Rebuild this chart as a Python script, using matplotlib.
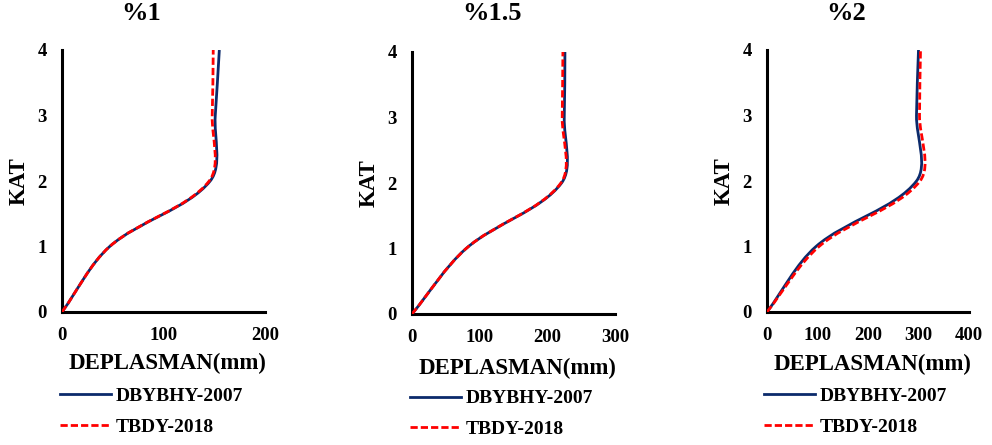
import numpy as np
import matplotlib
matplotlib.use("Agg")
import matplotlib.pyplot as plt
from matplotlib.path import Path
from matplotlib.patches import PathPatch
from matplotlib.lines import Line2D

plt.rcParams['font.family'] = ['Liberation Serif', 'DejaVu Serif']
plt.rcParams['font.weight'] = 'bold'

floors = [0, 1, 2, 3, 4]
titles = ["%1", "%1.5", "%2"]
xmax = [200, 300, 400]
xticks = [[0, 100, 200], [0, 100, 200, 300], [0, 100, 200, 300, 400]]

dbybhy_1 = [0, 47, 146, 151, 155]
tbdy_1 = [0, 47, 145, 148, 149]
dbybhy_15 = [0, 80, 221, 225, 226]
tbdy_15 = [0, 80, 220, 222, 223]
dbybhy_2 = [0, 97, 296, 296, 300]
tbdy_2 = [0, 103, 303, 302, 304]

series = [(dbybhy_1, tbdy_1), (dbybhy_15, tbdy_15), (dbybhy_2, tbdy_2)]
labels = ["DBYBHY-2007", "TBDY-2018"]

BLUE = '#0B2A6B'
RED = '#FF0000'
DASH = (0, (2.6, 1.1))


def smooth_path(xs, ys, sx, sy):
    # Excel-like smoothed line: cubic Bezier segments, tangents weighted by
    # chord length in screen space.
    P = np.column_stack([np.asarray(xs, float) * sx, np.asarray(ys, float) * sy])
    n = len(P)
    tang = []
    for i in range(n):
        a = P[i - 1] if i > 0 else P[i]
        c = P[i + 1] if i < n - 1 else P[i]
        tang.append(c - a)
    seg = [np.linalg.norm(P[i + 1] - P[i]) for i in range(n - 1)]
    verts = [P[0]]
    codes = [Path.MOVETO]
    for i in range(n - 1):
        if i == 0:
            c1 = P[0] + (P[1] - P[0]) / 3
        else:
            w = 2 * seg[i] / (seg[i - 1] + seg[i])
            c1 = P[i] + tang[i] / 6 * w
        if i + 1 == n - 1:
            c2 = P[i + 1] - (P[i + 1] - P[i]) / 3
        else:
            w = 2 * seg[i] / (seg[i] + seg[i + 1])
            c2 = P[i + 1] - tang[i + 1] / 6 * w
        verts += [c1, c2, P[i + 1]]
        codes += [Path.CURVE4] * 3
    V = np.array(verts)
    V[:, 0] /= sx
    V[:, 1] /= sy
    return Path(V, codes)


fig = plt.figure(figsize=(9.92, 4.45), dpi=100)

ax_rects = [
    (62, 50, 203, 262),
    (412, 52, 203, 262),
    (767, 50, 202, 262),
]
title_x = [141, 492, 846]
leg_pos = [(60, 411.5), (410, 414), (764, 411.5)]
xlabel_y = [-0.198, -0.206, -0.202]

W, H = 992, 445
for k, (l, t, w, h) in enumerate(ax_rects):
    ax = fig.add_axes([l / W, 1 - (t + h) / H, w / W, h / H])
    b, r = series[k]
    sx, sy = w / xmax[k], h / 4.0
    pb = PathPatch(smooth_path(b, floors, sx, sy), facecolor='none', edgecolor=BLUE,
                   lw=2.0, capstyle='butt', zorder=3)
    pr = PathPatch(smooth_path(r, floors, sx, sy), facecolor='none', edgecolor=RED,
                   lw=2.0, linestyle=DASH, capstyle='butt', zorder=4)
    ax.add_patch(pb)
    ax.add_patch(pr)
    ax.set_xlim(0, xmax[k])
    ax.set_ylim(0, 4)
    ax.set_xticks(xticks[k])
    ax.set_yticks(floors)
    for s in ['top', 'right']:
        ax.spines[s].set_visible(False)
    for s in ['left', 'bottom']:
        ax.spines[s].set_linewidth(2.2)
        ax.spines[s].set_color('black')
    ax.tick_params(length=0, labelsize=13.5, pad=11)
    for lab in ax.get_xticklabels() + ax.get_yticklabels():
        lab.set_fontweight('bold')
    ax.set_xlabel("DEPLASMAN(mm)", fontsize=16.5, fontweight='bold')
    ax.set_ylabel("KAT", fontsize=16.5, fontweight='bold')
    ax.xaxis.set_label_coords(0.52, xlabel_y[k])
    ax.yaxis.set_label_coords(-0.21, 0.5)
    ax.xaxis.label.set_va('center')
    ax.yaxis.label.set_va('center')
    fig.text(title_x[k] / W, 1 - 20.5 / H, titles[k], fontsize=19, fontweight='bold',
             ha='center', va='baseline')
    handles = [Line2D([], [], color=BLUE, lw=2.0),
               Line2D([], [], color=RED, lw=2.0, linestyle=DASH)]
    lx, ly = leg_pos[k]
    fig.legend(handles, labels, loc='center left',
               bbox_to_anchor=(lx / W, 1 - ly / H),
               frameon=False, handlelength=2.6, handletextpad=0.25,
               borderpad=0, borderaxespad=0,
               labelspacing=0.68, prop={'weight': 'bold', 'size': 14})

fig.savefig("out.png", dpi=100)
